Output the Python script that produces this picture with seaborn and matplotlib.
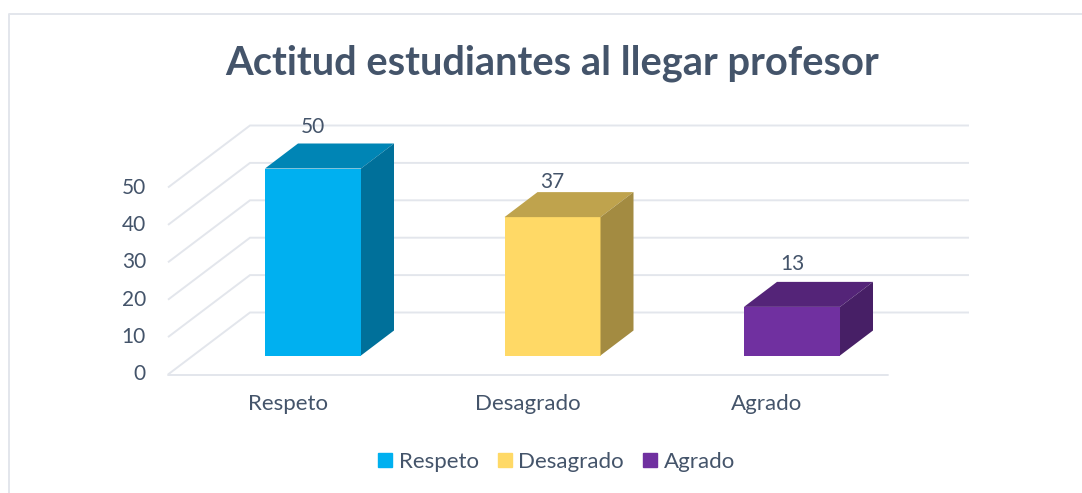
import seaborn as sns
import pandas as pd
import matplotlib.pyplot as plt
from matplotlib.lines import Line2D
from matplotlib.patches import Patch

categorias = ['Respeto', 'Desagrado', 'Agrado']
valores = [50, 37, 13]
ticks = [0, 10, 20, 30, 40, 50]
titulo = 'Actitud estudiantes al llegar profesor'

frente = ['#00B0F0', '#FFD966', '#7030A0']
tapa = ['#0085B5', '#BFA34D', '#542478']
lado = ['#00709A', '#A38B41', '#471F66']
texto = '#44546A'
rejilla = '#E3E6EC'
# the labels do not sit at the same distance over each bar
sobre_barra = [30, 25.5, 31]

sns.set_theme(style='white')
plt.rcParams['font.family'] = ['Lato', 'DejaVu Sans']

W, H = 1082, 493
# pixel scale of the picture: one category is 239.5 px, one unit of value is 3.74 px
PX_CAT = 239.5
PX_VAL = 3.74
X0, Y0 = 313, 355.5


def px_x(px):
    return (px - X0) / PX_CAT


def px_y(px):
    return (Y0 - px) / PX_VAL


df = pd.DataFrame({'categoria': categorias, 'valor': valores})

fig = plt.figure(figsize=(W / 100, H / 100), dpi=100)
ax = fig.add_axes([0, 0, 1, 1])
sns.barplot(data=df, x='categoria', y='valor', hue='categoria', palette=frente,
            width=96 / PX_CAT, saturation=1, legend=False, ax=ax, zorder=3, linewidth=0)
ax.set_xlim(px_x(0), px_x(W))
ax.set_ylim(px_y(H), px_y(0))
ax.set_axis_off()

# outer frame, only left and top are visible
ax.add_line(Line2D([px_x(8.5), px_x(8.5), px_x(W)], [px_y(H), px_y(14), px_y(14)],
                   color=rejilla, lw=1.4, zorder=1))

# floor and back wall
suelo = px_y(374.5)
fondo = px_y(312.5)
paso = (fondo - suelo)
for t in ticks:
    yf = suelo + t
    yb = suelo + paso + t
    ax.plot([px_x(168), px_x(250), px_x(969)], [yf, yb, yb], color=rejilla, lw=1.4, zorder=1,
            solid_capstyle='butt', solid_joinstyle='miter')
    ax.text(px_x(146), yf, str(t), ha='right', va='center', fontsize=15, color=texto)
ax.plot([px_x(168), px_x(888)], [suelo, suelo], color=rejilla, lw=1.4, zorder=1)

# 3d faces of every bar, built from the bars seaborn drew
prof_x = 33 / PX_CAT
prof_y = 25 / PX_VAL
barras = [b for b in ax.patches if b.get_height() > 0]
for i, b in enumerate(barras):
    x1 = b.get_x()
    x2 = x1 + b.get_width()
    y2 = b.get_height()
    ax.fill([x1, x1 + prof_x, x2 + prof_x, x2], [y2, y2 + prof_y, y2 + prof_y, y2],
            color=tapa[i], lw=0, zorder=3)
    ax.fill([x2, x2 + prof_x, x2 + prof_x, x2], [0, prof_y, y2 + prof_y, y2],
            color=lado[i], lw=0, zorder=3)
    ax.annotate(str(valores[i]), (i, y2), xytext=(0, sobre_barra[i]), textcoords='offset points',
                ha='center', va='center', fontsize=15, color=texto, zorder=4)
    ax.text(i - 25 / PX_CAT, px_y(404.5), categorias[i], ha='center', va='center',
            fontsize=16, color=texto)

fig.text(552 / W, 1 - 63 / H, titulo, ha='center', va='center', fontsize=28.7,
         fontweight='bold', color=texto)

handles = [Patch(color=c, label=n) for c, n in zip(frente, categorias)]
fig.legend(handles=handles, loc='center', bbox_to_anchor=(556.5 / W, 1 - 462 / H), ncol=3,
           frameon=False, fontsize=16, labelcolor=texto, handlelength=0.63, handleheight=0.63,
           handletextpad=0.3, columnspacing=0.85, borderpad=0)

plt.savefig('out.png', dpi=100)
